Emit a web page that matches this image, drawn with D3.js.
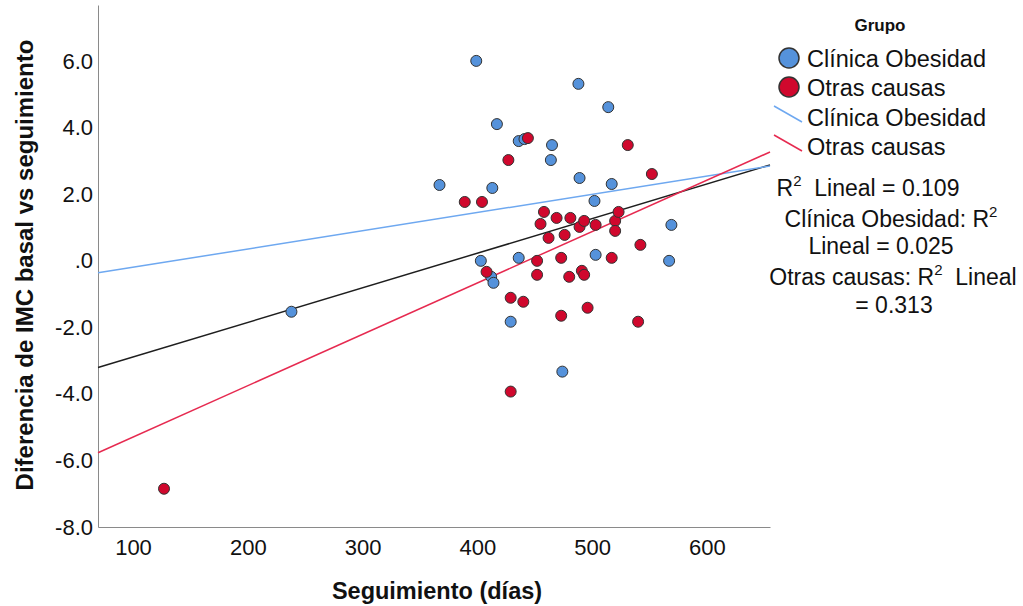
<!DOCTYPE html>
<html>
<head>
<meta charset="utf-8">
<script src="https://cdnjs.cloudflare.com/ajax/libs/d3/7.8.5/d3.min.js"></script>
<style>
  body { margin: 0; background: #fff; }
  text { font-family: "Liberation Sans", Arial, sans-serif; fill: #111; }
</style>
</head>
<body>
<svg id="chart" width="1023" height="606"></svg>
<script>
// values
const clinicaDias = [399, 488, 514, 417, 436, 441, 465, 464, 367, 489, 517, 413, 502, 569,
  403, 436, 412, 414, 503, 567, 429, 474, 238];
const clinicaDif = [6.01, 5.32, 4.62, 4.11, 3.60, 3.66, 3.48, 3.03, 2.28, 2.49, 2.31, 2.19, 1.80, 1.08,
  0.0, 0.09, -0.48, -0.66, 0.18, 0.0, -1.83, -3.33, -1.53];

const otrasDias = [444, 427, 531, 552, 389, 404, 458, 455, 469, 481, 489, 462, 476, 493, 503,
  520, 523, 520, 452, 473, 408, 452, 480, 491, 493, 429, 440, 473, 542, 517, 496, 540, 429, 127];
const otrasDif = [3.69, 3.03, 3.48, 2.61, 1.77, 1.77, 1.47, 1.11, 1.29, 1.29, 1.02, 0.69, 0.78, 1.20, 1.08,
  1.20, 1.47, 0.90, 0.0, 0.09, -0.33, -0.42, -0.48, -0.30, -0.42, -1.11, -1.23, -1.65, 0.48, 0.09,
  -1.41, -1.83, -3.93, -6.85];

// fit lines: total, Clínica Obesidad, Otras causas
const fitNames = ['Total', 'Clínica Obesidad', 'Otras causas'];
const fitIntercept = [-3.93, -0.74, -6.84];
const fitSlope = [0.0104, 0.00548, 0.01544];

const grupos = ['Clínica Obesidad', 'Otras causas'];
const xTicks = [100, 200, 300, 400, 500, 600];
const yTicks = [-8, -6, -4, -2, 0, 2, 4, 6];
const xDomain = [69.5, 654.9];
const yDomain = [-8, 7.69];

const colors = {
  clinica: '#5592db',
  otras: '#d0082d',
  clinicaLine: '#6ea8f0',
  otrasLine: '#e62a50',
  total: '#1e1e1e'
};

const svg = d3.select('#chart');
const plot = { left: 98, right: 770, top: 5, bottom: 527 };

const x = d3.scaleLinear().domain(xDomain).range([plot.left, plot.right]);
const y = d3.scaleLinear().domain(yDomain).range([plot.bottom, plot.top]);

const xAxis = d3.axisBottom(x)
  .tickValues(xTicks)
  .tickSize(0)
  .tickPadding(12)
  .tickFormat(d => d);

const yAxis = d3.axisLeft(y)
  .tickValues(yTicks)
  .tickSize(0)
  .tickPadding(5)
  .tickFormat(d => d === 0 ? '.0' : d.toFixed(1));

const gx = svg.append('g')
  .attr('class', 'xaxis')
  .attr('transform', `translate(0,${plot.bottom})`)
  .call(xAxis);

const gy = svg.append('g')
  .attr('class', 'yaxis')
  .attr('transform', `translate(${plot.left},0)`)
  .call(yAxis);

[gx, gy].forEach(g => {
  g.select('.domain').attr('stroke', '#8a8a8a').attr('stroke-width', 1);
  g.selectAll('text')
    .attr('font-size', 22)
    .attr('font-family', '"Liberation Sans", Arial, sans-serif')
    .attr('fill', '#111');
});

// fit lines
const lineColors = [colors.total, colors.clinicaLine, colors.otrasLine];
const fits = fitNames.map((name, i) => ({ name, a: fitIntercept[i], b: fitSlope[i], color: lineColors[i] }));

svg.append('g')
  .selectAll('line')
  .data(fits)
  .enter()
  .append('line')
  .attr('x1', x(xDomain[0]))
  .attr('y1', d => y(d.a + d.b * xDomain[0]))
  .attr('x2', x(xDomain[1]))
  .attr('y2', d => y(d.a + d.b * xDomain[1]))
  .attr('stroke', d => d.color)
  .attr('stroke-width', 1.5);

// points
const points = clinicaDias.map((d, i) => ({ dias: d, dif: clinicaDif[i], color: colors.clinica }))
  .concat(otrasDias.map((d, i) => ({ dias: d, dif: otrasDif[i], color: colors.otras })));

svg.append('g')
  .selectAll('circle')
  .data(points)
  .enter()
  .append('circle')
  .attr('cx', d => x(d.dias))
  .attr('cy', d => y(d.dif))
  .attr('r', 5.5)
  .attr('fill', d => d.color)
  .attr('stroke', '#333')
  .attr('stroke-width', 1);

// axis titles
svg.append('text')
  .attr('x', 437)
  .attr('y', 599)
  .attr('text-anchor', 'middle')
  .attr('font-size', 23.5)
  .attr('font-weight', 'bold')
  .text('Seguimiento (días)');

svg.append('text')
  .attr('transform', 'translate(33,265) rotate(-90)')
  .attr('text-anchor', 'middle')
  .attr('font-size', 24)
  .attr('font-weight', 'bold')
  .text('Diferencia de IMC basal vs seguimiento');

// legend
const legend = svg.append('g').attr('class', 'legend');

legend.append('text')
  .attr('x', 880)
  .attr('y', 31)
  .attr('text-anchor', 'middle')
  .attr('font-size', 17)
  .attr('font-weight', 'bold')
  .text('Grupo');

const markerColors = [colors.clinica, colors.otras];
grupos.forEach((g, i) => {
  legend.append('circle')
    .attr('cx', 789)
    .attr('cy', 58 + i * 29)
    .attr('r', 10)
    .attr('fill', markerColors[i])
    .attr('stroke', '#333')
    .attr('stroke-width', 1.5);
  legend.append('text')
    .attr('x', 807)
    .attr('y', 67 + i * 29)
    .attr('font-size', 23.5)
    .text(g);
});

const legendLines = [colors.clinicaLine, colors.otrasLine];
grupos.forEach((g, i) => {
  legend.append('line')
    .attr('x1', 774)
    .attr('y1', 106 + i * 29)
    .attr('x2', 802)
    .attr('y2', 122 + i * 29)
    .attr('stroke', legendLines[i])
    .attr('stroke-width', 1.5);
  legend.append('text')
    .attr('x', 807)
    .attr('y', 126 + i * 29)
    .attr('font-size', 23.5)
    .text(g);
});

// R2 notes: text before and after the superscript 2
const r2Lines = [
  { cx: 868, y: 196, pre: 'R', post: ' Lineal = 0.109' },
  { cx: 891, y: 227, pre: 'Clínica Obesidad: R', post: '' },
  { cx: 881, y: 254, pre: 'Lineal = 0.025', post: null },
  { cx: 893, y: 285, pre: 'Otras causas: R', post: ' Lineal' },
  { cx: 894, y: 313, pre: '= 0.313', post: null }
];

r2Lines.forEach(l => {
  const t = legend.append('text')
    .attr('x', l.cx)
    .attr('y', l.y)
    .attr('text-anchor', 'middle')
    .attr('font-size', 23);
  t.append('tspan').text(l.pre);
  if (l.post !== null) {
    t.append('tspan').attr('dy', -10).attr('font-size', 15).text('2');
    t.append('tspan').attr('dy', 10).text(l.post === '' ? '' : '\u00a0' + l.post);
  }
});
</script>
</body>
</html>
